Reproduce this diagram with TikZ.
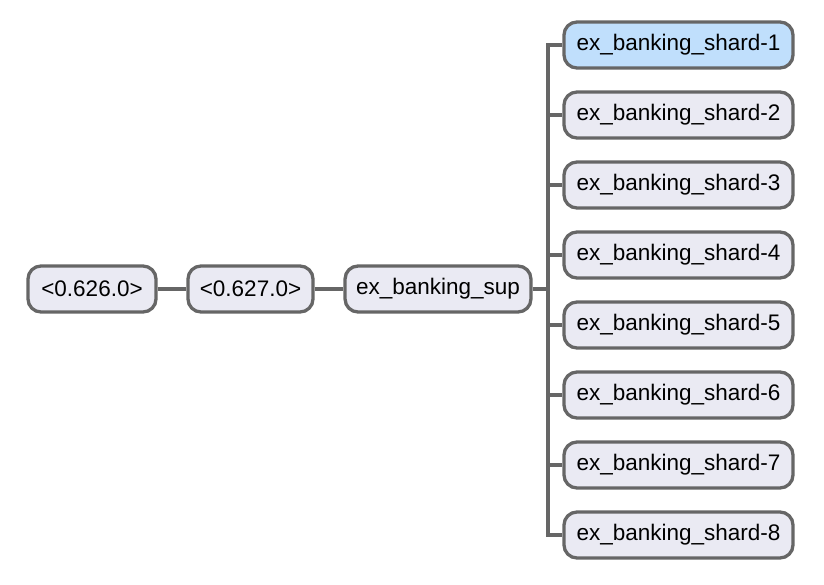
\documentclass[tikz,border=0pt]{standalone}
\usepackage{fontspec}
\setmainfont{Liberation Sans}
\usetikzlibrary{positioning}
\definecolor{boxline}{HTML}{666666}
\definecolor{boxfill}{HTML}{EAEAF3}
\definecolor{selfill}{HTML}{C0DFFC}

\tikzset{
    proc/.style={draw=boxline, fill=boxfill, line width=3.3pt, rounded corners=13pt,
        minimum height=46pt, inner xsep=11pt, font=\fontsize{22.5}{26}\selectfont},
    sel/.style={proc, fill=selfill},
    link/.style={draw=boxline, line width=3.3pt}
}

\begin{document}
\begin{tikzpicture}[x=1pt,y=-1pt]
    % page
    \useasboundingbox (0,0) rectangle (824,584);

    % chain of processes
    \node[proc, minimum width=128pt] (v626) at (92,289) {<0.626.0>};
    \node[proc, minimum width=125pt] (v627) at (250.5,289) {<0.627.0>};
    \node[proc, minimum width=184pt] (sup) at (438,289) {ex\_banking\_sup};
    \draw[link] (v626) -- (v627);
    \draw[link] (v627) -- (sup);

    % shards
    \node[sel, minimum width=229pt] (shard1) at (678.5,45) {ex\_banking\_shard-1};
    \foreach \i in {2,...,8}
        \node[proc, minimum width=229pt] (shard\i) at (678.5,{45+70*(\i-1)}) {ex\_banking\_shard-\i};

    % bus
    \coordinate (bus) at (548,289);
    \draw[link] (sup) -- (bus);
    \draw[link] (shard1.west) -| (bus |- shard8.west) -- (shard8.west);
    \foreach \i in {2,...,7}
        \draw[link] (bus |- shard\i.west) -- (shard\i.west);
\end{tikzpicture}
\end{document}
